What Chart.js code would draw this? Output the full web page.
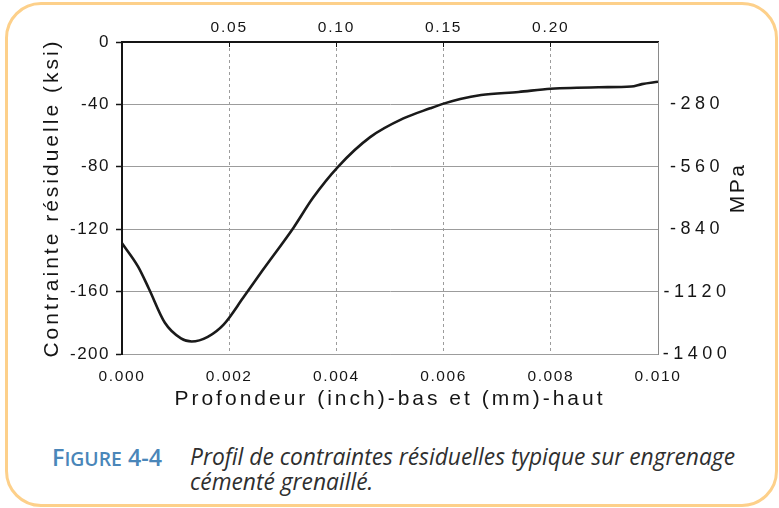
<!DOCTYPE html>
<html>
<head>
<meta charset="utf-8">
<script src="https://cdn.jsdelivr.net/npm/chart.js@4.4.1/dist/chart.umd.min.js"></script>
<style>
  html, body { margin: 0; padding: 0; background: #ffffff; width: 779px; height: 508px; overflow: hidden; }
  #frame { position: absolute; left: 5px; top: 2px; width: 773px; height: 505px; box-sizing: border-box;
           border: 3px solid #fdd08a; border-radius: 36px; }
  #chart { position: absolute; left: 0; top: 0; }
  .cap { position: absolute; white-space: nowrap; transform-origin: 0 0; line-height: 24px; }
  #fig { left: 52px; top: 445px; font-family: "Open Sans", sans-serif; font-weight: 600; font-size: 24px; color: #4a86b9; }
  #fig .sc { font-size: 20px; }
  .txt { left: 190px; font-family: "Open Sans", sans-serif; font-style: italic; font-size: 24px; color: #2f2f2f; }
  #l1 { top: 444px; }
  #l2 { top: 469px; }
</style>
</head>
<body>
<div id="frame"></div>
<canvas id="chart" width="779" height="420"></canvas>
<div id="fig" class="cap">F<span class="sc">IGURE</span> 4-4</div>
<div id="l1" class="cap txt">Profil de contraintes résiduelles typique sur engrenage</div>
<div id="l2" class="cap txt">cémenté grenaillé.</div>
<script>
// ---- data ----
const depthInch = [0, 0.0003, 0.0005, 0.0008, 0.0011, 0.0013, 0.0016, 0.0019, 0.00226, 0.00263,
                   0.0032, 0.00356, 0.00403, 0.00463, 0.00525, 0.00575, 0.006, 0.00631, 0.0067,
                   0.0074, 0.008, 0.0089, 0.0095, 0.0097, 0.010];
const stressKsi = [-129, -144, -158, -180, -190, -192, -189, -181, -164, -146,
                   -119, -100, -80, -61, -49, -42.5, -39.5, -36.5, -34,
                   -32, -30, -29, -28.5, -27, -25.5];
const inchTicks = ['0.000', '0.002', '0.004', '0.006', '0.008', '0.010'];
const mmTicks = ['', '0.05', '0.10', '0.15', '0.20', ''];
const ksiTicks = ['-200', '-160', '-120', '-80', '-40', '0'];
const mpaTicks = ['-1400', '-1120', '-840', '-560', '-280', ''];
const xTitle = 'Profondeur (inch)-bas et (mm)-haut';
const yTitle = 'Contrainte résiduelle (ksi)';
const y2Title = 'MPa';

const FONT = '"Liberation Sans", Arial, sans-serif';
const INK = '#151515';
const GRID = '#9c9c9c';

const spacing = {
  x:  { ticks: '1.6px', title: '3px' },
  x2: { ticks: '1.8px', title: '0px' },
  y:  { ticks: '1.5px', title: '3px' },
  y2: { ticks: '4.5px', title: '2.5px' }
};

const spacingPlugin = {
  id: 'spacing',
  beforeDraw(chart) {
    const ctx = chart.ctx;
    Object.keys(chart.scales).forEach(id => {
      const s = chart.scales[id];
      if (s._spWrapped) return;
      s._spWrapped = true;
      const sp = spacing[id] || { ticks: '0px', title: '0px' };
      const dl = s.drawLabels.bind(s);
      s.drawLabels = function (ca) {
        ctx.save(); ctx.letterSpacing = sp.ticks; dl(ca); ctx.restore();
      };
      if (id === 'y2') {
        s.drawTitle = function () {
          const t = this.options.title;
          ctx.save();
          ctx.letterSpacing = sp.title;
          ctx.font = '21px ' + FONT;
          ctx.fillStyle = INK;
          ctx.translate(this.left + 80, (this.top + this.bottom) / 2 - 10);
          ctx.rotate(-Math.PI / 2);
          ctx.textAlign = 'center';
          ctx.textBaseline = 'middle';
          ctx.fillText(t.text, 0, 0);
          ctx.restore();
        };
      } else {
        const dt = s.drawTitle.bind(s);
        s.drawTitle = function () {
          ctx.save(); ctx.letterSpacing = sp.title; dt(); ctx.restore();
        };
      }
    });
  }
};

const points = depthInch.map((x, i) => ({ x: x, y: stressKsi[i] }));

new Chart(document.getElementById('chart'), {
  type: 'scatter',
  data: {
    datasets: [{
      data: points,
      showLine: true,
      borderColor: '#1a1a1a',
      borderWidth: 2.6,
      pointRadius: 0,
      tension: 0.35,
      cubicInterpolationMode: 'monotone',
      fill: false
    }]
  },
  options: {
    responsive: false,
    devicePixelRatio: 1,
    animation: false,
    layout: { padding: 0 },
    plugins: { legend: { display: false }, tooltip: { enabled: false } },
    scales: {
      x: {
        type: 'linear', position: 'bottom', min: 0, max: 0.01,
        ticks: { stepSize: 0.002, autoSkip: false, maxRotation: 0, padding: 13, color: INK,
                 font: { family: FONT, size: 15.5 }, callback: (v, i) => inchTicks[i] },
        grid: { color: GRID, lineWidth: 1, drawTicks: false },
        border: { display: true, color: GRID, width: 1, dash: [3, 3] },
        title: { display: true, text: xTitle, color: INK, font: { family: FONT, size: 21 },
                 padding: { top: 0, bottom: 8 } },
        afterFit: s => { s.height = 66; }
      },
      x2: {
        type: 'linear', position: 'top', min: 0, max: 0.01,
        ticks: { stepSize: 0.002, autoSkip: false, maxRotation: 0, padding: 10, color: INK,
                 font: { family: FONT, size: 15.5 }, callback: (v, i) => mmTicks[i] },
        grid: { drawOnChartArea: false, drawTicks: true, tickLength: -5, tickColor: INK, tickWidth: 1 },
        border: { display: true, color: INK, width: 2 },
        afterFit: s => { s.height = 42; }
      },
      y: {
        type: 'linear', position: 'left', min: -200, max: 0,
        ticks: { stepSize: 40, padding: 6, color: INK, font: { family: FONT, size: 17 },
                 callback: (v, i) => ksiTicks[i] },
        grid: { color: GRID, lineWidth: 1, tickColor: INK, tickLength: 6, tickWidth: 1.5 },
        border: { display: true, color: INK, width: 2 },
        title: { display: true, text: yTitle, color: INK, font: { family: FONT, size: 21 },
                 padding: { top: 40, bottom: 0 } },
        afterFit: s => { s.width = 122; }
      },
      y2: {
        type: 'linear', position: 'right', min: -1400, max: 0,
        ticks: { stepSize: 280, padding: 8, crossAlign: 'center', color: INK,
                 font: { family: FONT, size: 18 }, callback: (v, i) => mpaTicks[i] },
        grid: { display: false },
        border: { display: true, color: '#8a8a8a', width: 1 },
        title: { display: true, text: y2Title },
        afterFit: s => { s.width = 121; }
      }
    }
  },
  plugins: [spacingPlugin]
});

// fit caption lines to the reference widths
function fit(id, w) {
  const el = document.getElementById(id);
  const r = el.getBoundingClientRect().width;
  const k = w / r;
  el.style.transform = 'scaleX(' + k + ')';
  return k;
}
fit('fig', 110);
const k1 = fit('l1', 545);
document.getElementById('l2').style.transform = 'scaleX(' + k1 + ')';
</script>
</body>
</html>
